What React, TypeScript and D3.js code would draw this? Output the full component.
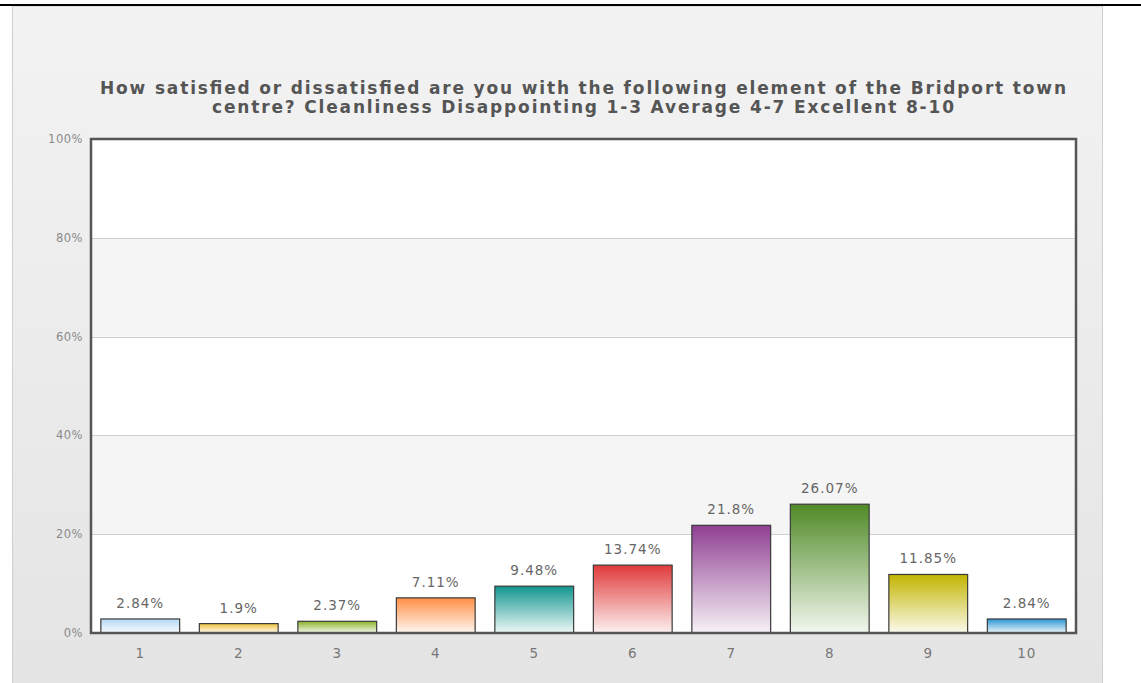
import React, { useEffect, useRef } from 'react';
import * as d3 from 'd3';

const categories = ['1', '2', '3', '4', '5', '6', '7', '8', '9', '10'];
const values = [2.84, 1.9, 2.37, 7.11, 9.48, 13.74, 21.8, 26.07, 11.85, 2.84];
const barColors = ['#b5d8f4', '#eec23c', '#8bb22a', '#ff8f45', '#12958f', '#e03a3a', '#8f3f92', '#4f8a26', '#c2b400', '#2b95d4'];
const yTicks = [0, 20, 40, 60, 80, 100];
const titleLines = [
  'How satisfied or dissatisfied are you with the following element of the Bridport town',
  'centre? Cleanliness Disappointing 1-3 Average 4-7 Excellent 8-10',
];
const titleWidths = [966, 742];

const W = 1141;
const H = 683;

export default function App() {
  const svgRef = useRef<SVGSVGElement>(null);

  useEffect(() => {
    if (!svgRef.current) return;
    const svg = d3.select(svgRef.current);
    svg.selectAll('*').remove();

    const margin = { top: 139, left: 91, right: 65, bottom: 50 };
    const width = W - margin.left - margin.right;
    const height = H - margin.top - margin.bottom;
    const font = '"DejaVu Sans", Verdana, sans-serif';

    const defs = svg.append('defs');
    const panelGrad = defs.append('linearGradient').attr('id', 'panel').attr('x1', 0).attr('y1', 0).attr('x2', 0).attr('y2', 1);
    panelGrad.append('stop').attr('offset', '0%').attr('stop-color', '#f3f3f3');
    panelGrad.append('stop').attr('offset', '100%').attr('stop-color', '#e4e4e4');

    barColors.forEach((c, i) => {
      const g = defs.append('linearGradient').attr('id', `bar${i}`).attr('x1', 0).attr('y1', 0).attr('x2', 0).attr('y2', 1);
      g.append('stop').attr('offset', '0%').attr('stop-color', c);
      g.append('stop').attr('offset', '100%').attr('stop-color', d3.interpolateRgb(c, '#ffffff')(0.93));
    });

    // page frame
    svg.append('rect').attr('width', W).attr('height', H).attr('fill', '#ffffff');
    svg.append('rect').attr('x', 12.5).attr('y', 6).attr('width', 1090).attr('height', H).attr('fill', 'url(#panel)').attr('stroke', '#cfcfcf');
    svg.append('line').attr('x1', 0).attr('x2', W).attr('y1', 5).attr('y2', 5).attr('stroke', '#000').attr('stroke-width', 2);

    // title
    svg.append('g').selectAll('text').data(titleLines).join('text')
      .attr('x', 583).attr('y', (d, i) => 94 + i * 19)
      .attr('text-anchor', 'middle')
      .attr('textLength', (d, i) => titleWidths[i]).attr('lengthAdjust', 'spacing')
      .style('font-family', font).style('font-size', '17px').style('font-weight', 'bold').attr('fill', '#555')
      .text(d => d);

    const g = svg.append('g').attr('transform', `translate(${margin.left},${margin.top})`);

    const x = d3.scaleBand().domain(categories).range([0, width]).paddingInner(0.2).paddingOuter(0.1);
    const y = d3.scaleLinear().domain([0, 100]).range([height, 0]);

    // background bands
    g.append('rect').attr('width', width).attr('height', height).attr('fill', '#ffffff');
    g.selectAll('.band').data(yTicks.slice(0, -1)).join('rect')
      .attr('x', 0).attr('width', width)
      .attr('y', d => y(d + 20)).attr('height', d => y(d) - y(d + 20))
      .attr('fill', (d, i) => (i % 2 === 1 ? '#f5f5f5' : '#ffffff'));

    // grid lines
    g.selectAll('.grid').data(yTicks.slice(1, -1)).join('line')
      .attr('x1', 0).attr('x2', width)
      .attr('y1', d => Math.round(y(d)) + 0.5).attr('y2', d => Math.round(y(d)) + 0.5)
      .attr('stroke', '#cfcfcf');

    // y labels
    g.selectAll('.ylab').data(yTicks).join('text')
      .attr('x', -8).attr('y', d => y(d) + 4)
      .attr('text-anchor', 'end')
      .style('font-family', font).style('font-size', '11.5px').style('letter-spacing', '0.5px').attr('fill', '#8a8a8a')
      .text(d => `${d}%`);

    // bars
    g.selectAll('.bar').data(values).join('rect')
      .attr('x', (d, i) => x(categories[i])!)
      .attr('width', x.bandwidth())
      .attr('y', d => y(d))
      .attr('height', d => y(0) - y(d))
      .attr('fill', (d, i) => `url(#bar${i})`)
      .attr('stroke', '#3a3a3a').attr('stroke-width', 1.2);

    // value labels
    g.selectAll('.vlab').data(values).join('text')
      .attr('x', (d, i) => x(categories[i])! + x.bandwidth() / 2)
      .attr('y', d => y(d) - 11)
      .attr('text-anchor', 'middle')
      .style('font-family', font).style('font-size', '13.5px').style('letter-spacing', '1px').attr('fill', '#666')
      .text(d => `${d}%`);

    // x labels
    g.selectAll('.xlab').data(categories).join('text')
      .attr('x', d => x(d)! + x.bandwidth() / 2)
      .attr('y', height + 25)
      .attr('text-anchor', 'middle')
      .style('font-family', font).style('font-size', '13.5px').style('letter-spacing', '1px').attr('fill', '#777')
      .text(d => d);

    // plot border
    g.append('rect').attr('width', width).attr('height', height)
      .attr('fill', 'none').attr('stroke', '#555').attr('stroke-width', 2.5);
  }, []);

  return (
    <svg ref={svgRef} width={W} height={H} style={{ position: 'absolute', left: 0, top: 0, display: 'block' }} />
  );
}
